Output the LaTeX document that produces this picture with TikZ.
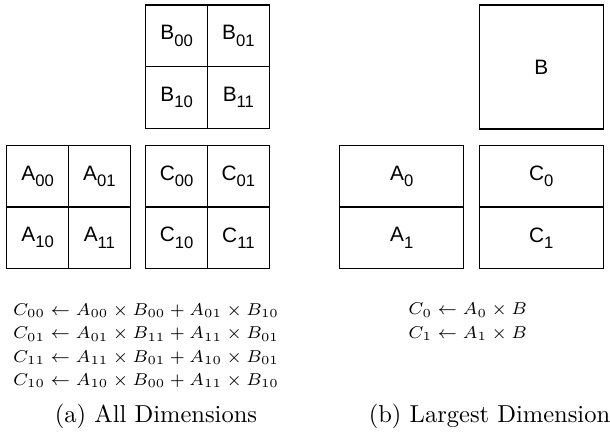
\documentclass[tikz,border=0pt]{standalone}
\usepackage{amsmath,amssymb}
\usepackage{fontspec}
\newfontfamily\boxfont{Liberation Sans}
\usepackage{tikz}
\usetikzlibrary{positioning}

% label with a small lowered index, as in the blocks
\newcommand{\blk}[2]{#1\raisebox{-2.5pt}{\fontsize{6.8}{7}\selectfont #2}}

\begin{document}
\begin{tikzpicture}[x=0.408pt, y=0.408pt,
  cell/.style={draw, line width=0.5pt, inner sep=0pt, minimum size=25.2pt,
    font=\boxfont\fontsize{8.5}{10}\selectfont},
  wide/.style={cell, minimum width=50.6pt, minimum height=25.2pt},
  eqn/.style={align=left, inner sep=0pt, font=\fontsize{7.3}{9.5}\selectfont},
  caption/.style={inner sep=0pt, font=\normalsize}]
  \useasboundingbox (0,0) rectangle (610,435);

  % (a) all dimensions: 2x2 blocks of A, B and C
  \foreach \m/\x/\y in {A/37.6/259, B/176.6/399.1, C/176.6/259} {
    \foreach \i in {0,1} {
      \foreach \j in {0,1} {
        \node[cell] (\m\i\j) at (\x+\j*61.8, \y-\i*61.8) {\blk{\m}{\i\j}};
      }
    }
  }
  \node[eqn, anchor=west] (eqa) at (12.7,89.2) {%
    $C_{00} \leftarrow A_{00} \times B_{00} + A_{01} \times B_{10}$\\
    $C_{01} \leftarrow A_{01} \times B_{11} + A_{11} \times B_{01}$\\
    $C_{11} \leftarrow A_{11} \times B_{01} + A_{10} \times B_{01}$\\
    $C_{10} \leftarrow A_{10} \times B_{00} + A_{11} \times B_{10}$};
  \node[caption] (capa) at (156,18.3) {(a) All Dimensions};

  % (b) largest dimension: row blocks of A and C, whole B
  \node[cell, minimum size=50.6pt] (B) at (541.2,367.9) {B};
  \foreach \i in {0,1} {
    \node[wide] (A\i) at (401.7, 259-\i*61.8) {\blk{A}{\i}};
    \node[wide] (C\i) at (541.2, 259-\i*61.8) {\blk{C}{\i}};
  }
  \node[eqn, anchor=west] (eqb) at (408,113) {%
    $C_0 \leftarrow A_0 \times B$\\
    $C_1 \leftarrow A_1 \times B$};
  \node[caption] (capb) at (489.5,18.3) {(b) Largest Dimension};
\end{tikzpicture}
\end{document}
